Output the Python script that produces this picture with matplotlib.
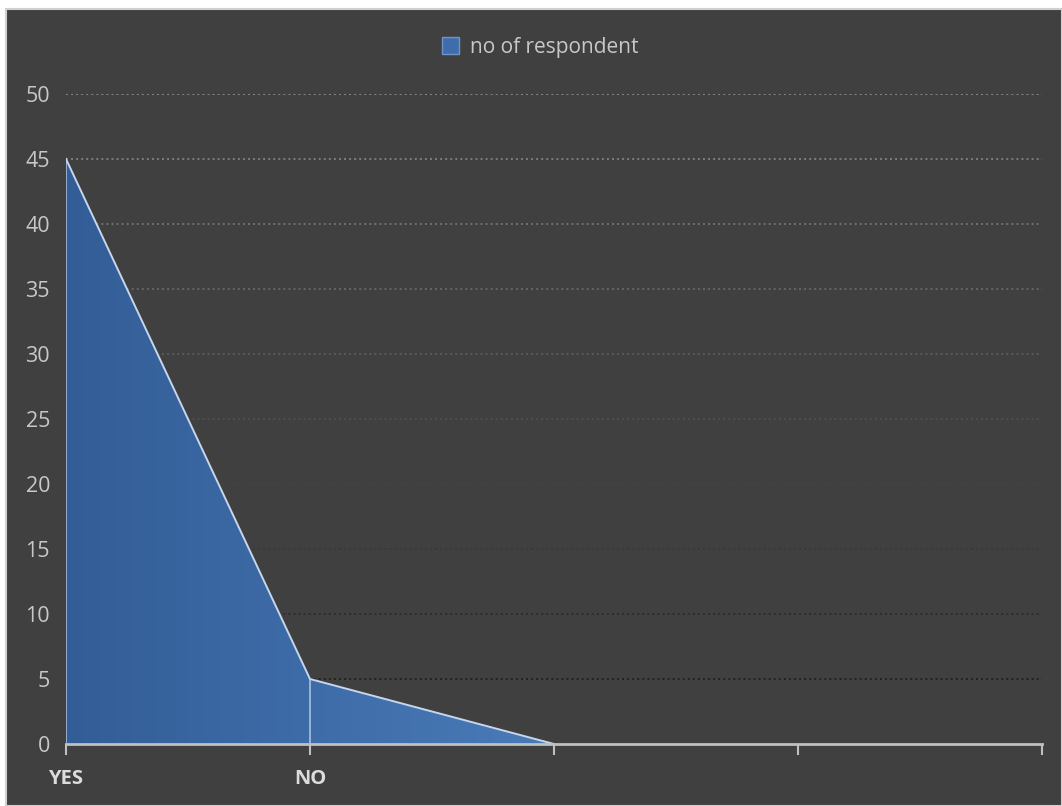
import numpy as np
import matplotlib
matplotlib.use("Agg")
import matplotlib.pyplot as plt
from matplotlib.patches import Rectangle, Patch
from matplotlib.colors import LinearSegmentedColormap

# Survey answers
categories = ["YES", "NO", "", "", ""]
respondents = [45, 5, 0, None, None]
series_name = "no of respondent"
y_ticks = [0, 5, 10, 15, 20, 25, 30, 35, 40, 45, 50]

BG = "#404040"
TEXT = "#c8c8c8"
EDGE = "#c6d6ec"

plt.rcParams["font.family"] = ["Open Sans", "DejaVu Sans"]

fig = plt.figure(figsize=(10.62, 8.06), dpi=100, facecolor="white")
W, H = 1062, 806
# dark chart panel with thin light frame, kept behind the axes
fig.patches.append(Rectangle((6 / W, 0), 1 - 6 / W, 1 - 9 / H, transform=fig.transFigure,
                             facecolor=BG, edgecolor="#d0d0d0", linewidth=1.5, zorder=-10))

ax = fig.add_axes([66 / W, 1 - 744 / H, (1042 - 66) / W, (744 - 94) / H])
ax.set_facecolor("none")
ax.set_zorder(5)

xs = np.arange(len(categories))
vals = [v for v in respondents if v is not None]
xv = xs[:len(vals)]

# dotted gridlines fading from light at the top to dark near the base
top_c, bot_c = np.array([136, 136, 136]), np.array([34, 34, 34])
for t in y_ticks[1:]:
    f = (t - 5) / 45
    c = (bot_c + (top_c - bot_c) * f) / 255
    ax.axhline(t, color=c, linewidth=1.4, linestyle=(0, (1, 1.6)), zorder=1)

# area with horizontal gradient fill
fill = ax.fill_between(xv, vals, 0, color="none", zorder=2)
cmap = LinearSegmentedColormap.from_list("blu", ["#335d96", "#3e6ca8", "#4a7bb8"])
grad = np.linspace(0, 1, 256).reshape(1, -1)
img = ax.imshow(grad, extent=[xv[0], xv[-1], 0, max(vals)], aspect="auto",
                cmap=cmap, origin="lower", zorder=2)
img.set_clip_path(fill.get_paths()[0], transform=ax.transData)
ax.set_xlim(0, len(categories) - 1)
ax.set_ylim(0, 50)

# outline of the area: top edge and drop lines at each point
ax.plot(xv, vals, color=EDGE, linewidth=1.4, zorder=3, solid_joinstyle="miter")
ax.vlines([x for x, v in zip(xv, vals) if v > 0], 0,
          [v for v in vals if v > 0], color=EDGE, linewidth=1.2, alpha=0.8, zorder=3)

# axes styling
for s in ["left", "right", "top"]:
    ax.spines[s].set_visible(False)
ax.spines["bottom"].set_color("#c0c0c0")
ax.spines["bottom"].set_linewidth(2)
ax.spines["bottom"].set_zorder(4)

ax.set_yticks(y_ticks)
ax.set_yticklabels([str(t) for t in y_ticks])
ax.tick_params(axis="y", length=0, pad=11.5, labelcolor=TEXT, labelsize=15.5)
ax.set_xticks(xs)
ax.set_xticklabels(categories, fontweight="bold")
ax.tick_params(axis="x", direction="out", length=8, width=1.5, color="#c0c0c0",
               pad=10, labelcolor="#dcdcdc", labelsize=14.5)

leg = fig.legend(handles=[Patch(facecolor="#3f6dab", edgecolor="#6d94c8", label=series_name)],
                 loc="center", bbox_to_anchor=(540 / W, 1 - 47 / H), frameon=False,
                 fontsize=15, handlelength=0.85, handleheight=0.85, handletextpad=0.5,
                 labelcolor=TEXT)

fig.savefig("out.png", dpi=100, facecolor=fig.get_facecolor())
